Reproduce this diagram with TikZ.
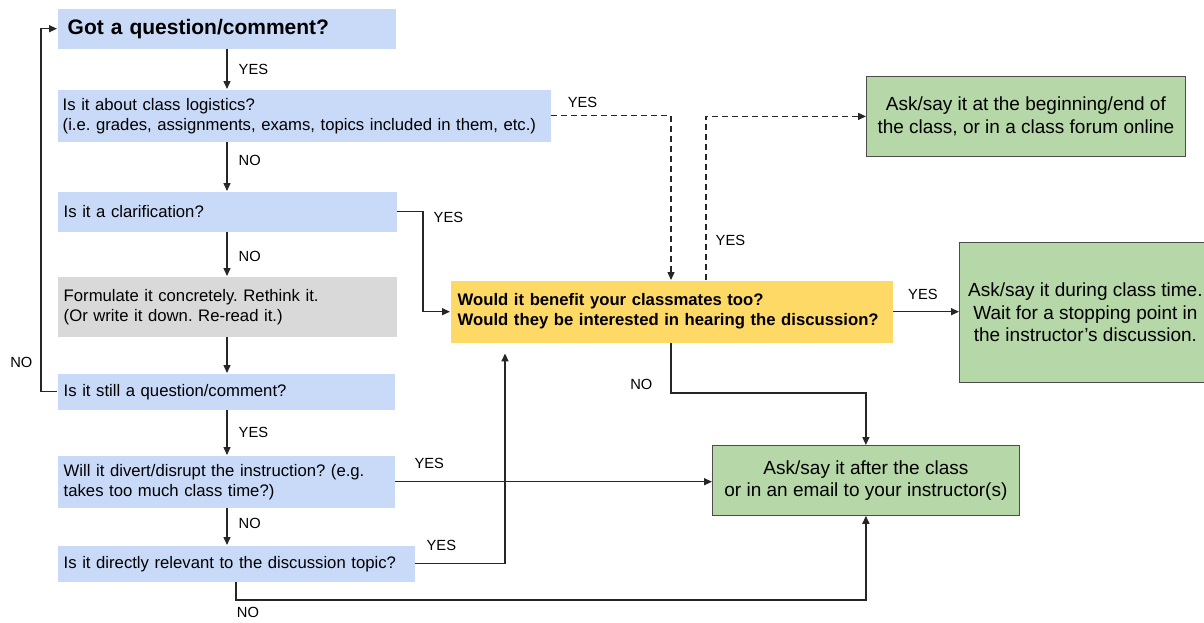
\documentclass[tikz,border=0pt]{standalone}
\usepackage{fontspec}
\setmainfont{Liberation Sans}
\usetikzlibrary{positioning,arrows.meta}

\definecolor{qblue}{HTML}{C9DAF8}
\definecolor{qgrey}{HTML}{D9D9D9}
\definecolor{qyellow}{HTML}{FFD966}
\definecolor{qgreen}{HTML}{B6D7A8}

\newcommand\fsBox{\fontsize{16.7}{20}\selectfont\frenchspacing\hyphenpenalty=10000}
\newcommand\fsTitle{\fontsize{21}{24}\selectfont\bfseries}
\newcommand\fsEnd{\fontsize{19}{22.5}\selectfont\frenchspacing}
\newcommand\fsLbl{\fontsize{14.7}{17}\selectfont}

\begin{document}
\begin{tikzpicture}[x=1pt, y=-1pt, line width=1.4pt, draw=black!85, >={Triangle[length=8pt,width=7pt]},
  qbox/.style={fill=qblue, anchor=north west, align=left, inner xsep=6pt, inner ysep=0pt, font=\fsBox},
  abox/.style={fill=qgreen, draw=black!70, line width=0.8pt, anchor=north west, align=center, inner sep=0pt, font=\fsEnd},
  lbl/.style={font=\fsLbl, inner sep=1pt},
  dash line/.style={dash pattern=on 6pt off 4pt}]
\useasboundingbox (0,0) rectangle (1204,622);

\node[qbox, font=\fsTitle, inner xsep=10pt, text width=318pt, minimum height=40pt] (got)       at (57,8)    {Got a question/comment?};
\node[qbox, inner xsep=5pt, text width=483pt, minimum height=52pt]                 (logistics) at (57,89)   {Is it about class logistics?\\(i.e. grades, assignments, exams, topics included in them, etc.)};
\node[qbox, text width=327pt, minimum height=40pt]                                 (clarify)   at (57,191)  {Is it a clarification?};
\node[qbox, fill=qgrey, text width=327pt, minimum height=60pt]                     (rethink)   at (57,276)  {Formulate it concretely. Rethink it.\\(Or write it down. Re-read it.)};
\node[qbox, text width=325pt, minimum height=36pt]                                 (still)     at (57,373)  {Is it still a question/comment?};
\node[qbox, text width=325pt, minimum height=52pt]                                 (divert)    at (57,455)  {Will it divert/disrupt the instruction? (e.g.\\takes too much class time?)};
\node[qbox, text width=345pt, minimum height=36pt]                                 (relevant)  at (57,545)  {Is it directly relevant to the discussion topic?};
\node[qbox, fill=qyellow, font=\fsBox\bfseries, inner xsep=7pt, text width=428pt, minimum height=62pt] (benefit) at (450,280) {Would it benefit your classmates too?\\Would they be interested in hearing the discussion?};
\node[abox, minimum width=319pt, minimum height=80pt]  (forum)  at (866,76)  {Ask/say it at the beginning/end of\\the class, or in a class forum online};
\node[abox, minimum width=252pt, minimum height=140pt] (during) at (959,242) {Ask/say it during class time.\\Wait for a stopping point in\\the instructor’s discussion.};
\node[abox, minimum width=307pt, minimum height=70pt]  (after)  at (712,445) {Ask/say it after the class\\or in an email to your instructor(s)};

\coordinate (colMain) at (227,0);
\coordinate (colLoop) at (41,0);
\coordinate (colClar) at (423,0);
\coordinate (colRel)  at (505,0);
\coordinate (colDown) at (671,0);
\coordinate (colUp)   at (706,0);
\coordinate (colNo)   at (236,0);
\coordinate (rowNo)   at (0,393);
\coordinate (rowBot)  at (0,600);

% left column
\draw[->] (got.south -| colMain) -- node[lbl, right=10pt] {YES} (logistics.north -| colMain);
\draw[->] (logistics.south -| colMain) -- node[lbl, right=10pt, pos=.38] {NO} (clarify.north -| colMain);
\draw[->] (clarify.south -| colMain) -- node[lbl, right=10pt, pos=.55] {NO} (rethink.north -| colMain);
\draw[->] (rethink.south -| colMain) -- (still.north -| colMain);
\draw[->] (still.south -| colMain) -- node[lbl, right=10pt] {YES} (divert.north -| colMain);
\draw[->] (divert.south -| colMain) -- node[lbl, right=10pt, pos=.42] {NO} (relevant.north -| colMain);
\draw[->] (still.west) -- (still.west -| colLoop) -- node[lbl, left=7pt, pos=.08] {NO} (got.west -| colLoop) -- (got.west);

% to the yellow box
\draw[->, dash line] (logistics.east) -- node[lbl, above=6pt, pos=.26] {YES} (logistics.east -| colDown) -- (benefit.north -| colDown);
\draw[->] (clarify.east) -- (clarify.east -| colClar) -- node[lbl, right=9pt, pos=.06] {YES} (benefit.west -| colClar) -- (benefit.west);
\draw[->, shorten >=10pt] (relevant.east) -- node[lbl, above=11pt, pos=.29] {YES} (relevant.east -| colRel) -- (benefit.south -| colRel);

% to the answers
\draw[->, dash line] (benefit.north -| colUp) -- node[lbl, right=8pt, pos=.24] {YES} (colUp |- forum.west) -- (forum.west);
\draw[->] (benefit.east) -- node[lbl, above=10pt, pos=.45] {YES} (during.west |- benefit.east);
\draw[->] (benefit.south -| colDown) -- node[lbl, left=17pt, pos=.82] {NO} (colDown |- rowNo) -- (rowNo -| after.north) -- (after.north);
\draw[->] (divert.east) -- node[lbl, above=11pt, pos=.107] {YES} (after.west |- divert.east);
\draw[->] (relevant.south -| colNo) -- (colNo |- rowBot) node[lbl, below=6pt, xshift=12pt] {NO} -- (rowBot -| after.south) -- (after.south);
\end{tikzpicture}
\end{document}
